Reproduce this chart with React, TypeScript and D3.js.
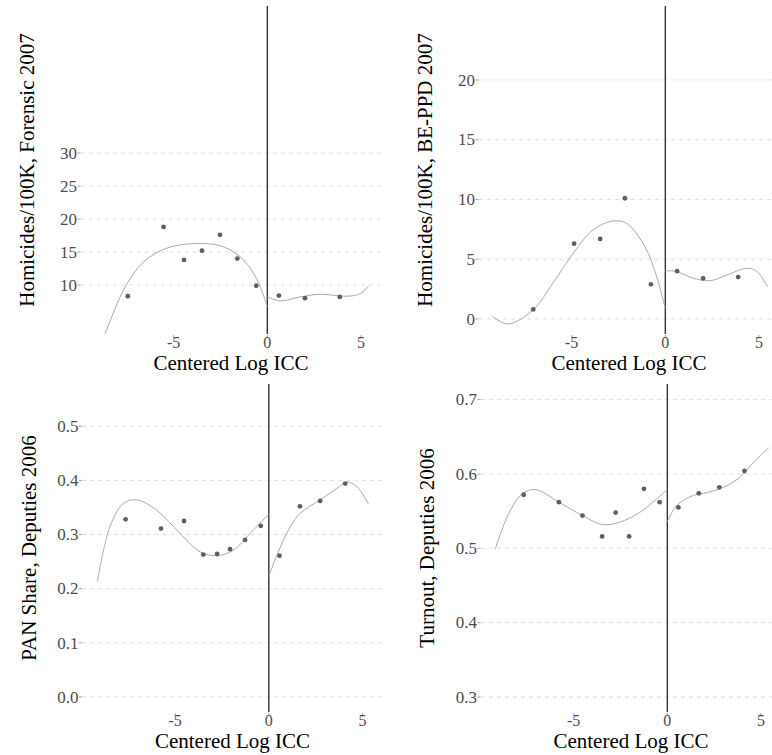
import React from "react";
import * as d3 from "d3";

// x is the centered log ICC for every panel
const xTicks = [-5, 0, 5];
const xTickLabels = ["-5", "0", "5"];

// Homicides, Forensic 2007
const forensicX = [-7.45, -5.54, -4.45, -3.49, -2.53, -1.6, -0.59, 0.62, 2.01, 3.87];
const forensicY = [8.3, 18.8, 13.8, 15.2, 17.6, 14.0, 9.9, 8.4, 8.0, 8.2];
const forensicFitLeftX = [-9.2, -8.66, -7.59, -6.61, -5.36, -3.76, -2.34, -1.27, -0.55, 0];
const forensicFitLeftY = [-1.0, 2.7, 9.7, 13.5, 15.6, 16.3, 15.8, 13.8, 10.8, 6.7];
const forensicFitRightX = [0, 0.7, 1.76, 2.83, 4.26, 4.97, 5.42];
const forensicFitRightY = [8.2, 7.6, 8.2, 8.6, 8.3, 8.7, 9.9];
const forensicTicks = [10, 15, 20, 25, 30];

// Homicides, BE-PPD 2007
const beppdX = [-7.05, -4.87, -3.48, -2.16, -0.77, 0.63, 2.02, 3.89];
const beppdY = [0.8, 6.3, 6.7, 10.1, 2.9, 4.0, 3.4, 3.5];
const beppdFitLeftX = [-9.27, -8.41, -7.07, -6.0, -4.87, -3.86, -2.79, -2.07, -1.18, -0.64, 0];
const beppdFitLeftY = [0.25, -0.42, 0.75, 3.0, 5.6, 7.45, 8.2, 8.0, 6.3, 4.4, 0.9];
const beppdFitRightX = [0, 0.6, 1.5, 2.4, 3.29, 4.36, 4.9, 5.46];
const beppdFitRightY = [4.04, 3.96, 3.4, 3.2, 3.68, 4.24, 3.96, 2.7];
const beppdTicks = [0, 5, 10, 15, 20];

// PAN share, deputies 2006
const panX = [-7.65, -5.76, -4.53, -3.5, -2.76, -2.07, -1.27, -0.43, 0.57, 1.66, 2.74, 4.08];
const panY = [0.328, 0.311, 0.325, 0.263, 0.264, 0.273, 0.29, 0.316, 0.261, 0.352, 0.362, 0.394];
const panFitLeftX = [-9.15, -8.49, -7.78, -7.06, -5.99, -4.74, -3.67, -2.78, -1.89, -1.0, 0];
const panFitLeftY = [0.214, 0.314, 0.357, 0.364, 0.345, 0.302, 0.268, 0.261, 0.271, 0.302, 0.338];
const panFitRightX = [0, 0.43, 1.14, 1.67, 2.74, 3.64, 4.17, 4.71, 5.33];
const panFitRightY = [0.222, 0.262, 0.314, 0.339, 0.364, 0.385, 0.397, 0.388, 0.356];
const panTicks = [0, 0.1, 0.2, 0.3, 0.4, 0.5];

// Turnout, deputies 2006
const turnoutX = [-7.67, -5.79, -4.53, -3.48, -2.76, -2.04, -1.25, -0.41, 0.59, 1.68, 2.78, 4.12];
const turnoutY = [0.572, 0.562, 0.544, 0.516, 0.548, 0.516, 0.58, 0.562, 0.555, 0.574, 0.582, 0.604];
const turnoutFitLeftX = [-9.19, -8.48, -7.76, -7.04, -5.79, -4.53, -3.46, -2.56, -1.49, -0.59, 0];
const turnoutFitLeftY = [0.499, 0.546, 0.573, 0.579, 0.562, 0.544, 0.532, 0.535, 0.548, 0.566, 0.579];
const turnoutFitRightX = [0, 0.48, 1.38, 2.13, 3.17, 3.89, 4.61, 5.41];
const turnoutFitRightY = [0.536, 0.557, 0.571, 0.575, 0.584, 0.596, 0.616, 0.635];
const turnoutTicks = [0.3, 0.4, 0.5, 0.6, 0.7];

const zip = (xs: number[], ys: number[]) => xs.map((x, i) => [x, ys[i]] as [number, number]);

const panels = [
  {
    id: "p1", title: "Homicides/100K, Forensic 2007", left: 81, top: 6, bottom: 334,
    yDomain: [2.58, 52.27], ticks: forensicTicks, fmt: d3.format("d"),
    points: zip(forensicX, forensicY),
    fits: [zip(forensicFitLeftX, forensicFitLeftY), zip(forensicFitRightX, forensicFitRightY)],
  },
  {
    id: "p2", title: "Homicides/100K, BE-PPD 2007", left: 479, top: 6, bottom: 334,
    yDomain: [-1.26, 26.19], ticks: beppdTicks, fmt: d3.format("d"),
    points: zip(beppdX, beppdY),
    fits: [zip(beppdFitLeftX, beppdFitLeftY), zip(beppdFitRightX, beppdFitRightY)],
  },
  {
    id: "p3", title: "PAN Share, Deputies 2006", left: 82.5, top: 384, bottom: 712,
    yDomain: [-0.0278, 0.578], ticks: panTicks, fmt: d3.format(".1f"),
    points: zip(panX, panY),
    fits: [zip(panFitLeftX, panFitLeftY), zip(panFitRightX, panFitRightY)],
  },
  {
    id: "p4", title: "Turnout, Deputies 2006", left: 481, top: 384, bottom: 712,
    yDomain: [0.2798, 0.721], ticks: turnoutTicks, fmt: d3.format(".1f"),
    points: zip(turnoutX, turnoutY),
    fits: [zip(turnoutFitLeftX, turnoutFitLeftY), zip(turnoutFitRightX, turnoutFitRightY)],
  },
];

const FONT = "'Liberation Serif', 'Times New Roman', serif";

export default function App() {
  const svgRef = React.useRef<SVGSVGElement>(null);
  const width = 772;
  const height = 755;
  const plotW = 300;

  React.useEffect(() => {
    const svgEl = d3.select(svgRef.current);
    svgEl.selectAll("*").remove();
    svgEl.append("rect").attr("width", width).attr("height", height).attr("fill", "#fff");

    panels.forEach((p) => {
      const x = d3.scaleLinear().domain([-9.95, 6.07]).range([p.left, p.left + plotW]);
      const y = d3.scaleLinear().domain(p.yDomain).range([p.bottom, p.top]);
      const g = svgEl.append("g").attr("class", p.id);

      g.append("clipPath").attr("id", "clip-" + p.id)
        .append("rect")
        .attr("x", p.left).attr("y", p.top)
        .attr("width", plotW).attr("height", p.bottom - p.top);

      // dashed horizontal gridlines
      g.selectAll(".grid").data(p.ticks).enter().append("line")
        .attr("x1", p.left).attr("x2", p.left + plotW)
        .attr("y1", (d) => y(d)).attr("y2", (d) => y(d))
        .attr("stroke", "#dedede").attr("stroke-width", 1)
        .attr("stroke-dasharray", "4,4");

      // y ticks + labels
      g.selectAll(".ytick").data(p.ticks).enter().append("line")
        .attr("x1", p.left - 3.5).attr("x2", p.left - 0.5)
        .attr("y1", (d) => y(d)).attr("y2", (d) => y(d))
        .attr("stroke", "#8a8a8a").attr("stroke-width", 0.8);
      g.selectAll(".ylab").data(p.ticks).enter().append("text")
        .attr("x", p.left - 4).attr("y", (d) => y(d))
        .attr("dy", "0.34em").attr("text-anchor", "end")
        .attr("font-family", FONT).attr("font-size", 17).attr("fill", "#4d4d4d")
        .text((d) => p.fmt(d));

      // x ticks + labels
      g.selectAll(".xtick").data(xTicks).enter().append("line")
        .attr("x1", (d) => x(d)).attr("x2", (d) => x(d))
        .attr("y1", p.bottom + 1).attr("y2", p.bottom + 3.5)
        .attr("stroke", "#8a8a8a").attr("stroke-width", 0.8);
      g.selectAll(".xlab").data(xTicks).enter().append("text")
        .attr("x", (d) => x(d)).attr("y", p.bottom + 14)
        .attr("text-anchor", "middle")
        .attr("font-family", FONT).attr("font-size", 16).attr("fill", "#4d4d4d")
        .text((d, i) => xTickLabels[i]);

      // axis titles
      g.append("text")
        .attr("x", p.left + plotW / 2).attr("y", p.bottom + 36)
        .attr("text-anchor", "middle")
        .attr("font-family", FONT).attr("font-size", 21).attr("fill", "#000")
        .text("Centered Log ICC");
      g.append("text")
        .attr("transform", `translate(${p.left - 47},${(p.top + p.bottom) / 2}) rotate(-90)`)
        .attr("text-anchor", "middle")
        .attr("font-family", FONT).attr("font-size", 21).attr("fill", "#000")
        .text(p.title);

      const plot = g.append("g").attr("clip-path", `url(#clip-${p.id})`);

      // discontinuity at 0
      plot.append("line")
        .attr("x1", x(0)).attr("x2", x(0))
        .attr("y1", p.top).attr("y2", p.bottom)
        .attr("stroke", "#333").attr("stroke-width", 1.4);

      const line = d3.line<[number, number]>()
        .x((d) => x(d[0]))
        .y((d) => y(d[1]))
        .curve(d3.curveCatmullRom.alpha(0.5));

      plot.selectAll(".fit").data(p.fits).enter().append("path")
        .attr("d", (d) => line(d))
        .attr("fill", "none").attr("stroke", "#ababab").attr("stroke-width", 1);

      plot.selectAll(".pt").data(p.points).enter().append("circle")
        .attr("cx", (d) => x(d[0])).attr("cy", (d) => y(d[1]))
        .attr("r", 2.4).attr("fill", "#5f5f5f");
    });
  }, []);

  return (
    <svg
      ref={svgRef}
      width={width}
      height={height}
      style={{ position: "absolute", left: 0, top: 0 }}
    />
  );
}
